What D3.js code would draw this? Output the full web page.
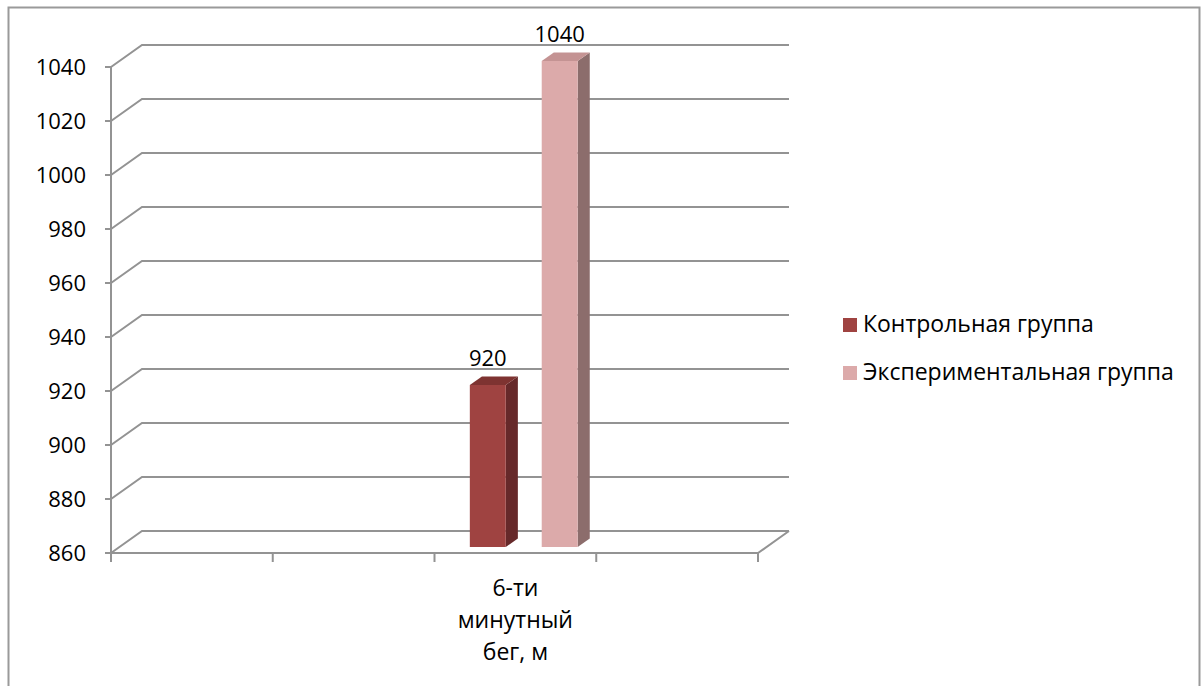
<!DOCTYPE html>
<html>
<head>
<meta charset="utf-8">
<script src="https://cdnjs.cloudflare.com/ajax/libs/d3/7.8.5/d3.min.js"></script>
<style>
  html, body { margin: 0; padding: 0; background: #fff; }
  svg { display: block; }
  text { font-family: "Open Sans", "Noto Sans", sans-serif; fill: #000; }
</style>
</head>
<body>
<svg id="chart" width="1202" height="686"></svg>
<script>
// Categories along the floor (only one slot carries data)
const categories = ["", "", "6-ти минутный бег, м", ""];
const seriesNames = ["Контрольная группа", "Экспериментальная группа"];
const controlValues = [null, null, 920, null];
const experimentalValues = [null, null, 1040, null];
const yTicks = [860, 880, 900, 920, 940, 960, 980, 1000, 1020, 1040];

const series = [
  { name: seriesNames[0], values: controlValues,
    front: "#9f4341", side: "#66292a", top: "#7e3331" },
  { name: seriesNames[1], values: experimentalValues,
    front: "#dcaaaa", side: "#8c6d6c", top: "#c49393" }
];

const svg = d3.select("#chart");

// Outer frame
svg.append("path")
  .attr("d", "M8.5,690 V7.5 H1199.5 V690")
  .attr("fill", "none").attr("stroke", "#9a9a9a").attr("stroke-width", 2);

// Plot geometry: front plane plus an oblique depth offset
const left = 111, right = 758, bottom = 553, topY = 67;
const depthDX = 31, depthDY = -22;
const proj = (x, y, d) => [x + depthDX * d, y + depthDY * d];

const y = d3.scaleLinear().domain([860, 1040]).range([bottom, topY]);
const x = d3.scaleBand().domain(d3.range(categories.length)).range([left, right]);
const xs = d3.scaleBand().domain(d3.range(series.length))
  .range([0, x.bandwidth()]).paddingInner(0.5).paddingOuter(0.375);

const gridColor = "#939393";
const numSize = 22, textSize = 23;
const g = svg.append("g");

// Back wall gridlines with their diagonal connectors to the value axis
yTicks.forEach(v => {
  const a = proj(left, y(v), 0), b = proj(left, y(v), 1), c = proj(right, y(v), 1);
  g.append("path")
    .attr("d", `M${a[0]},${a[1]} L${b[0]},${b[1]} L${c[0]},${c[1]}`)
    .attr("fill", "none").attr("stroke", gridColor).attr("stroke-width", 2);
});

// Floor front edge and right diagonal
{
  const a = proj(left, y(860), 0), b = proj(right, y(860), 0), c = proj(right, y(860), 1);
  g.append("path")
    .attr("d", `M${a[0]},${a[1]} L${b[0]},${b[1]} L${c[0]},${c[1]}`)
    .attr("fill", "none").attr("stroke", gridColor).attr("stroke-width", 2);
}

// Value axis line and ticks
g.append("line").attr("x1", left).attr("x2", left)
  .attr("y1", y(1040)).attr("y2", y(860))
  .attr("stroke", gridColor).attr("stroke-width", 2);
yTicks.forEach(v => {
  g.append("line").attr("x1", left - 6).attr("x2", left)
    .attr("y1", y(v)).attr("y2", y(v))
    .attr("stroke", gridColor).attr("stroke-width", 2);
  g.append("text").attr("x", 86).attr("y", y(v) + 8)
    .attr("text-anchor", "end").attr("font-size", numSize).text(v);
});

// Category axis ticks at band boundaries
const bounds = categories.map((c, i) => x(i)).concat([right]);
bounds.forEach(bx => {
  g.append("line").attr("x1", bx).attr("x2", bx)
    .attr("y1", bottom).attr("y2", bottom + 9)
    .attr("stroke", gridColor).attr("stroke-width", 2);
});

// Category labels, wrapped onto separate lines
categories.forEach((c, i) => {
  if (!c) return;
  const lines = ["6-ти", "минутный", "бег, м"];
  const t = g.append("text").attr("text-anchor", "middle").attr("font-size", textSize);
  lines.forEach((ln, k) => {
    t.append("tspan").attr("x", x(i) + x.bandwidth() / 2)
      .attr("y", 596 + k * 32).text(ln);
  });
});

// 3D bars
const d0 = 0.27, d1 = 0.66;
series.forEach((s, si) => {
  s.values.forEach((v, i) => {
    if (v == null) return;
    const x0 = x(i) + xs(si), x1 = x0 + xs.bandwidth();
    const yb = y(860), yt = y(v);
    const P = (px, py, d) => proj(px, py, d).join(",");
    // side face
    g.append("polygon")
      .attr("points", [P(x1, yt, d0), P(x1, yt, d1), P(x1, yb, d1), P(x1, yb, d0)].join(" "))
      .attr("fill", s.side);
    // top face
    g.append("polygon")
      .attr("points", [P(x0, yt, d0), P(x0, yt, d1), P(x1, yt, d1), P(x1, yt, d0)].join(" "))
      .attr("fill", s.top);
    // front face
    g.append("polygon")
      .attr("points", [P(x0, yt, d0), P(x1, yt, d0), P(x1, yb, d0), P(x0, yb, d0)].join(" "))
      .attr("fill", s.front);
    // value label
    const c = proj((x0 + x1) / 2, yt, d0);
    const tb = proj(x1, yt, d1);
    g.append("text").attr("x", c[0]).attr("y", tb[1] - 10)
      .attr("text-anchor", "middle").attr("font-size", numSize).text(v);
  });
});

// Legend
series.forEach((s, si) => {
  const ly = 318 + si * 48;
  svg.append("rect").attr("x", 843).attr("y", ly).attr("width", 14).attr("height", 14)
    .attr("fill", s.front);
  svg.append("text").attr("x", 863).attr("y", ly + 14).attr("font-size", textSize).text(s.name);
});
</script>
</body>
</html>
